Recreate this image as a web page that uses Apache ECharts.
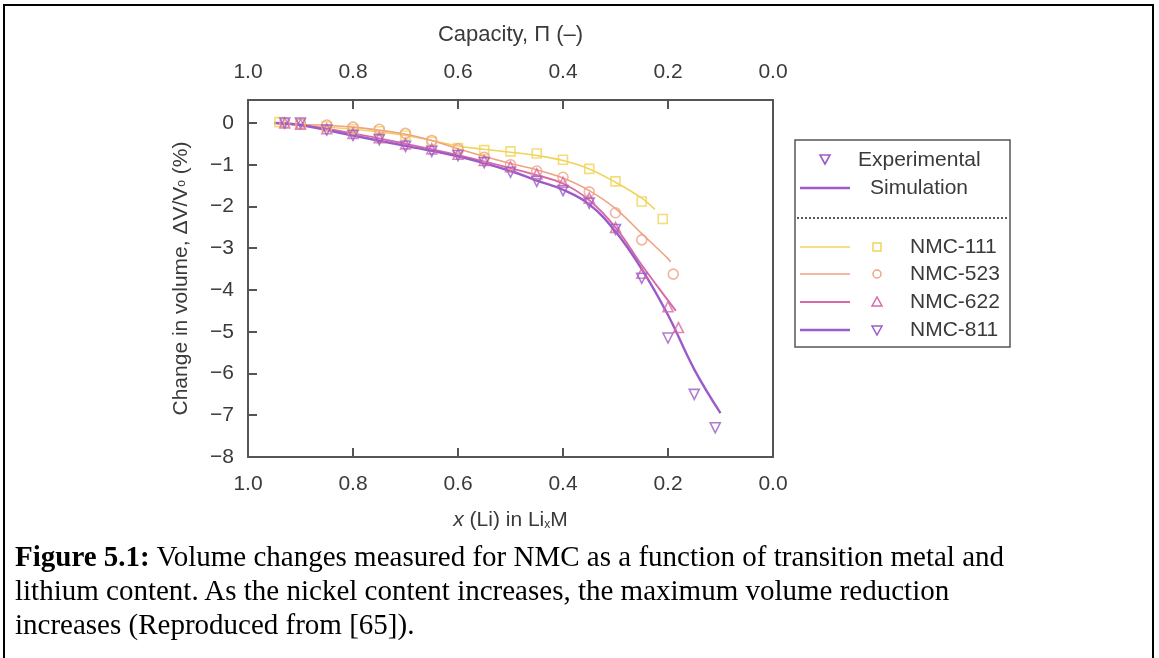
<!DOCTYPE html>
<html><head><meta charset="utf-8">
<script src="https://cdn.jsdelivr.net/npm/echarts@6/dist/echarts.min.js"></script>
<style>
html,body{margin:0;padding:0;background:#fff;}
#frame{position:absolute;left:3px;top:4px;width:1151px;height:700px;border:2px solid #000;box-sizing:border-box;}
#chart{position:absolute;left:0;top:0;width:1159px;height:658px;}
#cap{position:absolute;left:15px;top:539px;width:1135px;font-family:"Liberation Serif","Times New Roman",serif;font-size:29px;line-height:34px;color:#000;white-space:nowrap;}
</style></head>
<body>
<div id="frame"></div>
<div id="chart"></div>
<div id="cap"><b>Figure 5.1:</b> Volume changes measured for NMC as a function of transition metal and<br>lithium content. As the nickel content increases, the maximum volume reduction<br>increases (Reproduced from [65]).</div>
<script>
// ---- data ----
const xTickLabels = ['1.0','0.8','0.6','0.4','0.2','0.0'];
const yTickLabels = ['0','-1','-2','-3','-4','-5','-6','-7','-8'];
const seriesNames = ['NMC-111','NMC-523','NMC-622','NMC-811'];
const colors = ['#f2d35a','#f0a184','#d76aa6','#9b5bc9'];

const exp111X = [0.94,0.90,0.85,0.80,0.75,0.70,0.65,0.60,0.55,0.50,0.45,0.40,0.35,0.30,0.25,0.21];
const exp111Y = [0.02,-0.02,-0.08,-0.15,-0.20,-0.30,-0.45,-0.60,-0.65,-0.68,-0.73,-0.88,-1.10,-1.40,-1.88,-2.30];
const exp523X = [0.93,0.90,0.85,0.80,0.75,0.70,0.65,0.60,0.55,0.50,0.45,0.40,0.35,0.30,0.25,0.19];
const exp523Y = [0.00,-0.02,-0.05,-0.10,-0.15,-0.25,-0.42,-0.62,-0.82,-1.00,-1.15,-1.30,-1.65,-2.15,-2.80,-3.62];
const exp622X = [0.93,0.90,0.85,0.80,0.75,0.70,0.65,0.60,0.55,0.50,0.45,0.40,0.35,0.30,0.25,0.20,0.18];
const exp622Y = [0.00,-0.03,-0.14,-0.25,-0.35,-0.50,-0.62,-0.75,-0.90,-1.05,-1.22,-1.42,-1.80,-2.50,-3.60,-4.40,-4.90];
const exp811X = [0.93,0.90,0.85,0.80,0.75,0.70,0.65,0.60,0.55,0.50,0.45,0.40,0.35,0.30,0.25,0.20,0.15,0.11];
const exp811Y = [0.00,0.00,-0.17,-0.30,-0.40,-0.56,-0.68,-0.78,-0.95,-1.18,-1.40,-1.62,-1.92,-2.55,-3.72,-5.15,-6.50,-7.30];

const sim111X = [0.95,0.90,0.80,0.70,0.60,0.55,0.50,0.45,0.40,0.35,0.30,0.25,0.225];
const sim111Y = [0.00,-0.05,-0.15,-0.30,-0.55,-0.63,-0.70,-0.78,-0.90,-1.10,-1.42,-1.80,-2.07];
const sim523X = [0.95,0.90,0.80,0.70,0.65,0.60,0.55,0.50,0.45,0.40,0.35,0.30,0.25,0.20,0.195];
const sim523Y = [0.00,-0.03,-0.10,-0.27,-0.42,-0.62,-0.80,-0.97,-1.12,-1.32,-1.62,-2.05,-2.65,-3.25,-3.33];
const sim622X = [0.95,0.90,0.80,0.70,0.60,0.50,0.45,0.40,0.35,0.30,0.25,0.20,0.185];
const sim622Y = [0.00,-0.05,-0.25,-0.50,-0.77,-1.08,-1.25,-1.45,-1.85,-2.50,-3.40,-4.25,-4.50];
const sim811X = [0.95,0.90,0.80,0.70,0.60,0.50,0.45,0.40,0.35,0.30,0.25,0.20,0.15,0.10];
const sim811Y = [0.00,-0.05,-0.30,-0.55,-0.80,-1.15,-1.38,-1.60,-1.95,-2.60,-3.50,-4.60,-5.90,-6.95];

// ---- build ----
const zip = (a,b) => a.map((v,i)=>[v,b[i]]);
const expSets = [zip(exp111X,exp111Y),zip(exp523X,exp523Y),zip(exp622X,exp622Y),zip(exp811X,exp811Y)];
const simSets = [zip(sim111X,sim111Y),zip(sim523X,sim523Y),zip(sim622X,sim622Y),zip(sim811X,sim811Y)];
const symbols = ['rect','circle','triangle','triangle'];
const rotations = [0,0,0,180];
const lineWidths = [1.6,1.6,1.9,2.4];

const series = [];
for (let i=0;i<4;i++){
  series.push({type:'line',name:seriesNames[i]+' sim',data:simSets[i],smooth:0.4,showSymbol:false,
    lineStyle:{color:colors[i],width:lineWidths[i]},z:2,silent:true});
  series.push({type:'scatter',name:seriesNames[i],data:expSets[i],symbol:symbols[i],symbolRotate:rotations[i],
    symbolSize:i===0?9:10,itemStyle:{color:'rgba(255,255,255,0)',borderColor:colors[i],borderWidth:1.6},z:3});
}

const font = '"Liberation Sans", Arial, sans-serif';
const txt = '#3a3a3a';
const L = {x:795,y:140,w:215,h:207};
const FS = 21;
const graphic = [
  {type:'rect',shape:{x:L.x,y:L.y,width:L.w,height:L.h},style:{fill:'#fff',stroke:'#555',lineWidth:1.5},z:10},
  {type:'polygon',shape:{points:[[820,155],[830,155],[825,164]]},style:{fill:'none',stroke:colors[3],lineWidth:1.6},z:11},
  {type:'text',style:{x:858,y:160,text:'Experimental',font:FS+'px '+font,fill:txt,verticalAlign:'middle'},z:11},
  {type:'line',shape:{x1:800,y1:188,x2:850,y2:188},style:{stroke:colors[3],lineWidth:2.5},z:11},
  {type:'text',style:{x:870,y:188,text:'Simulation',font:FS+'px '+font,fill:txt,verticalAlign:'middle'},z:11},
  {type:'line',shape:{x1:797,y1:218,x2:1008,y2:218},style:{stroke:'#222',lineWidth:1.5,lineDash:[2,2]},z:11}
];
const rowY = [247,274,302,330];
for (let i=0;i<4;i++){
  const y=rowY[i];
  graphic.push({type:'line',shape:{x1:800,y1:y,x2:850,y2:y},style:{stroke:colors[i],lineWidth:lineWidths[i]},z:11});
  let m; const cx=877;
  if(i===0) m={type:'rect',shape:{x:cx-4,y:y-4,width:8,height:8},style:{fill:'none',stroke:colors[i],lineWidth:1.5},z:11};
  else if(i===1) m={type:'circle',shape:{cx:cx,cy:y,r:4},style:{fill:'none',stroke:colors[i],lineWidth:1.5},z:11};
  else if(i===2) m={type:'polygon',shape:{points:[[cx-5,y+4],[cx+5,y+4],[cx,y-5]]},style:{fill:'none',stroke:colors[i],lineWidth:1.5},z:11};
  else m={type:'polygon',shape:{points:[[cx-5,y-4],[cx+5,y-4],[cx,y+5]]},style:{fill:'none',stroke:colors[i],lineWidth:1.5},z:11};
  graphic.push(m);
  graphic.push({type:'text',style:{x:910,y:y,text:seriesNames[i],font:FS+'px '+font,fill:txt,verticalAlign:'middle'},z:11});
}

const fmtX = v => { const r=(1-v)/0.2; const idx = Math.round(r); return (Math.abs(r-idx)<1e-6) ? xTickLabels[idx] : ''; };
const fmtY = v => { if (Math.abs(v-Math.round(v))>1e-6) return ''; const idx=-Math.round(v); return (idx>=0&&idx<yTickLabels.length)?yTickLabels[idx].replace('-','\u2212'):''; };

const axisLineStyle = {color:'#555',width:2};
const axisCommon = {
  type:'value',min:0,max:1,interval:0.2,inverse:true,
  axisLine:{onZero:false,lineStyle:axisLineStyle},
  axisTick:{inside:true,length:9,lineStyle:axisLineStyle},
  splitLine:{show:false},
  axisLabel:{formatter:fmtX,color:txt,fontSize:FS,fontFamily:font,margin:17}
};

const chart = echarts.init(document.getElementById('chart'),null,{renderer:'canvas'});
chart.setOption({
  animation:false,
  backgroundColor:'transparent',
  grid:{left:248,right:386,top:100,bottom:201},
  xAxis:[
    Object.assign({},axisCommon,{position:'bottom',name:'{i|x} (Li) in Li{s|x}M',nameLocation:'middle',nameGap:52,
      nameTextStyle:{color:txt,fontSize:FS,fontFamily:font,rich:{i:{fontStyle:'italic',fontSize:FS,color:txt,fontFamily:font},s:{fontSize:12,color:txt,fontFamily:font,padding:[10,0,0,0]}}}}),
    Object.assign({},axisCommon,{position:'top',name:'Capacity, \u03A0 (\u2013)',nameLocation:'middle',nameGap:54,
      nameTextStyle:{color:txt,fontSize:22,fontFamily:font}})
  ],
  yAxis:[{
    type:'value',min:-8,max:0.55,interval:1,
    axisLine:{show:true,onZero:false,lineStyle:axisLineStyle},
    axisTick:{inside:true,length:9,lineStyle:axisLineStyle},
    splitLine:{show:false},
    axisLabel:{formatter:fmtY,color:txt,fontSize:FS,fontFamily:font,margin:14,showMaxLabel:false},
    name:'Change in volume, \u0394V/V{s|o} (%)',nameLocation:'middle',nameGap:56,nameRotate:90,
    nameTextStyle:{color:txt,fontSize:FS,fontFamily:font,rich:{s:{fontSize:12,color:txt,fontFamily:font}}}
  },{
    type:'value',min:-8,max:0.55,position:'right',
    axisLine:{show:true,onZero:false,lineStyle:axisLineStyle},axisTick:{show:false},axisLabel:{show:false},splitLine:{show:false}
  }],
  series:series,
  graphic:graphic
});
</script>
</body></html>
